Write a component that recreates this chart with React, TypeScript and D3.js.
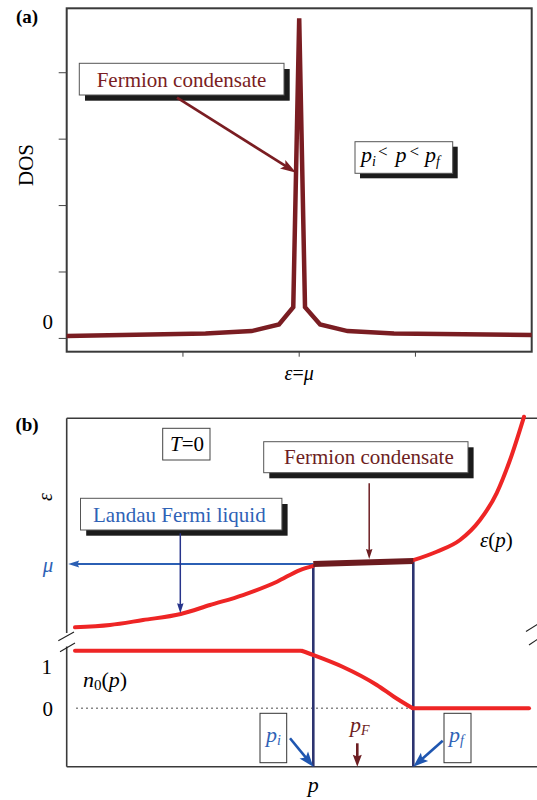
import React from "react";
import * as d3 from "d3";

// ---------- Panel (a): density of states ----------
const dosEnergy = [0, 1.194, 1.591, 1.826, 1.949, 2.0, 2.05, 2.18, 2.416, 2.815, 4];
const dosValue = [0.035, 0.075, 0.11, 0.211, 0.471, 4.82, 0.471, 0.211, 0.11, 0.075, 0.05];
const dosXTicks = [1, 2, 3];
const dosYTicks = [0, 1, 2, 3, 4];

// ---------- Panel (b): spectrum and occupation ----------
const epsLeftP = [0.083, 0.433, 0.763, 1.14, 1.433, 1.763, 2.103, 2.333, 2.466];
const epsLeftE = [0, 0.036, 0.115, 0.21, 0.352, 0.51, 0.72, 0.905, 0.97];
const condP = [2.466, 3.466];
const condE = [1.0, 1.047];
const epsRightP = [3.466, 3.7, 3.933, 4.133, 4.3, 4.433, 4.573];
const epsRightE = [1.06, 1.194, 1.379, 1.695, 2.12, 2.643, 3.327];
const n0FlatLP = [0.083, 2.347];
const n0FlatLV = [1, 1];
const n0DropP = [2.347, 2.467, 2.758, 3.101, 3.272, 3.46];
const n0DropV = [1, 0.925, 0.722, 0.405, 0.201, 0];
const n0FlatRP = [3.46, 4.623];
const n0FlatRV = [0, 0];
const pI = 2.466;
const pFermi = 2.906;
const pFin = 3.466;
const muValue = 1;

const DARKRED = "#7a1d22";
const RED = "#ee2525";
const BLUE = "#2f62b6";
const NAVY = "#2d3470";
const SERIF = { fontFamily: '"Liberation Serif", "Times New Roman", serif' };

const xA = d3.scaleLinear().domain([0, 4]).range([66.7, 531.7]);
const yA = d3.scaleLinear().domain([-0.2, 4.97]).range([351.7, 8.3]);
const xB = d3.scaleLinear().domain([0, 4.7]).range([66.7, 536.7]);
const yE = d3.scaleLinear().domain([0, 1]).range([627.3, 564]);
const yN = d3.scaleLinear().domain([0, 1]).range([708.3, 650.7]);
const bTop = 418.3;
const bBottom = 766.7;

function T(props: any) {
  return <text {...props} style={SERIF} />;
}

function Arrow({ x1, y1, x2, y2, color, w, hl, hw, notch = 0.8 }: any) {
  const dx = x2 - x1, dy = y2 - y1;
  const L = Math.hypot(dx, dy);
  const ux = dx / L, uy = dy / L;
  const px = -uy, py = ux;
  const bx = x2 - ux * hl, by = y2 - uy * hl;
  const nx = x2 - ux * hl * notch, ny = y2 - uy * hl * notch;
  const pts = `${x2},${y2} ${bx + (px * hw) / 2},${by + (py * hw) / 2} ${nx},${ny} ${bx - (px * hw) / 2},${by - (py * hw) / 2}`;
  return (
    <g>
      <line x1={x1} y1={y1} x2={nx + ux} y2={ny + uy} stroke={color} strokeWidth={w} />
      <polygon points={pts} fill={color} />
    </g>
  );
}

function ShadowBox({ x, y, w, h, off = 5.5 }: any) {
  return (
    <g>
      <rect x={x + off} y={y + off} width={w} height={h} fill="#1b1b1b" />
      <rect x={x} y={y} width={w} height={h} fill="#fff" stroke="#555" strokeWidth={1} />
    </g>
  );
}

export default function App() {
  const zip = (a: number[], b: number[]) => a.map((v, i) => [v, b[i]] as [number, number]);
  const dosLine = d3
    .line<[number, number]>()
    .x((d) => xA(d[0]))
    .y((d) => yA(d[1]));
  const epsLine = d3
    .line<[number, number]>()
    .x((d) => xB(d[0]))
    .y((d) => yE(d[1]))
    .curve(d3.curveMonotoneX);
  const condLine = d3
    .line<[number, number]>()
    .x((d) => xB(d[0]))
    .y((d) => yE(d[1]));
  const n0Line = d3
    .line<[number, number]>()
    .x((d) => xB(d[0]))
    .y((d) => yN(d[1]))
    .curve(d3.curveMonotoneX);

  const aL = xA.range()[0], aR = xA.range()[1];
  const aT = yA.range()[1], aB = yA.range()[0];
  const bL = xB.range()[0];

  return (
    <svg width={537} height={800} style={{ position: "absolute", left: 0, top: 0, background: "#fff" }}>
      {/* ================= Panel (a) ================= */}
      <T x={16} y={23} fontSize={19} fontWeight="bold">(a)</T>
      <rect x={aL} y={aT} width={aR - aL} height={aB - aT} fill="none" stroke="#3a3a3a" strokeWidth={2} />
      {dosYTicks.map((t) => (
        <line key={"ya" + t} x1={aL - 8} x2={aL} y1={yA(t)} y2={yA(t)} stroke="#444" strokeWidth={1} />
      ))}
      {dosXTicks.map((t) => (
        <line key={"xa" + t} x1={xA(t)} x2={xA(t)} y1={aB} y2={aB + 5} stroke="#444" strokeWidth={1} />
      ))}
      <T x={53} y={yA(0) - 9} fontSize={21} textAnchor="end">0</T>
      <T transform={`translate(33,165) rotate(-90)`} fontSize={21} textAnchor="middle">DOS</T>
      <T x={xA(2)} y={380} fontSize={20} textAnchor="middle">
        <tspan fontStyle="italic">ε</tspan>
        <tspan>=</tspan>
        <tspan fontStyle="italic">μ</tspan>
      </T>

      <path d={dosLine(zip(dosEnergy, dosValue)) || ""} fill="none" stroke={DARKRED} strokeWidth={4.5} strokeLinejoin="miter" strokeMiterlimit={30} />

      <ShadowBox x={79.3} y={63.3} w={204.7} h={31.7} off={5.7} />
      <T x={96.7} y={87.3} fontSize={21} fill={DARKRED}>Fermion condensate</T>
      <Arrow x1={177} y1={97.7} x2={xA(2) - 3} y2={172.7} color={DARKRED} w={2.6} hl={16} hw={10} />

      <ShadowBox x={355} y={141.7} w={97.7} h={31.6} off={5} />
      <T x={361} y={162.3} fontSize={22} fontStyle="italic">
        <tspan>p</tspan>
        <tspan fontSize={14} dy={4}>i</tspan>
        <tspan fontSize={17} fontStyle="normal" dx={2} dy={-9.3}>&lt;</tspan>
        <tspan dx={8} dy={5.3}>p</tspan>
        <tspan fontSize={17} fontStyle="normal" dx={3} dy={-5.3}>&lt;</tspan>
        <tspan dx={6} dy={5.3}>p</tspan>
        <tspan fontSize={14} dy={4}>f</tspan>
      </T>

      {/* ================= Panel (b) ================= */}
      <T x={15.4} y={431} fontSize={19} fontWeight="bold">(b)</T>
      <line x1={bL} x2={537} y1={bTop} y2={bTop} stroke="#3a3a3a" strokeWidth={1.6} />
      <line x1={bL} x2={537} y1={bBottom} y2={bBottom} stroke="#3a3a3a" strokeWidth={1.6} />
      <line x1={bL} x2={bL} y1={bTop} y2={633} stroke="#3a3a3a" strokeWidth={1.6} />
      <line x1={bL} x2={bL} y1={646.5} y2={bBottom} stroke="#3a3a3a" strokeWidth={1.6} />
      {/* axis breaks */}
      <line x1={58.3} y1={640.7} x2={74} y2={632} stroke="#222" strokeWidth={1.1} />
      <line x1={60} y1={651.7} x2={75} y2={643} stroke="#222" strokeWidth={1.1} />
      <line x1={526} y1={631.5} x2={538} y2={624} stroke="#222" strokeWidth={1.1} />
      <line x1={529} y1={645} x2={538} y2={639} stroke="#222" strokeWidth={1.1} />

      {/* T=0 box */}
      <rect x={162.7} y={428.3} width={47.3} height={31.7} fill="#fff" stroke="#444" strokeWidth={1} />
      <T x={170} y={450.7} fontSize={21}>
        <tspan fontStyle="italic">T</tspan>
        <tspan>=0</tspan>
      </T>

      {/* dotted zero line */}
      <line x1={76} x2={496.6} y1={yN(0)} y2={yN(0)} stroke="#888" strokeWidth={1.5} strokeDasharray="2,3" />

      {/* vertical p_i / p_f lines */}
      <line x1={xB(pI)} x2={xB(pI)} y1={yE(condE[0])} y2={bBottom} stroke={NAVY} strokeWidth={2.6} />
      <line x1={xB(pFin)} x2={xB(pFin)} y1={yE(condE[1])} y2={bBottom} stroke={NAVY} strokeWidth={2.6} />

      {/* mu arrow */}
      <Arrow x1={xB(pI)} y1={yE(muValue)} x2={bL + 1.5} y2={yE(muValue)} color="#2b5fb4" w={1.8} hl={11} hw={7} notch={0.85} />
      <T x={48} y={572} fontSize={21} fontStyle="italic" fill={BLUE} textAnchor="middle">μ</T>
      <T transform={`translate(52,497) rotate(-90)`} fontSize={20} fontStyle="italic" textAnchor="middle">ε</T>

      {/* epsilon(p) */}
      <path d={epsLine(zip(epsLeftP, epsLeftE)) || ""} fill="none" stroke={RED} strokeWidth={4} strokeLinecap="round" />
      <path d={epsLine(zip(epsRightP, epsRightE)) || ""} fill="none" stroke={RED} strokeWidth={4} strokeLinecap="round" />
      <path d={condLine(zip(condP, condE)) || ""} fill="none" stroke="#6c1b1f" strokeWidth={6} />

      {/* n0(p) */}
      <path d={n0Line(zip(n0FlatLP, n0FlatLV)) || ""} fill="none" stroke={RED} strokeWidth={4} strokeLinecap="round" />
      <path d={n0Line(zip(n0DropP, n0DropV)) || ""} fill="none" stroke={RED} strokeWidth={4} />
      <path d={n0Line(zip(n0FlatRP, n0FlatRV)) || ""} fill="none" stroke={RED} strokeWidth={4} strokeLinecap="round" />

      <T x={52} y={674} fontSize={21} textAnchor="end">1</T>
      <T x={53} y={yN(0) + 7.5} fontSize={21} textAnchor="end">0</T>
      <T x={83} y={687} fontSize={22}>
        <tspan fontStyle="italic">n</tspan>
        <tspan fontSize={15} dy={3}>0</tspan>
        <tspan dy={-3}>(</tspan>
        <tspan fontStyle="italic">p</tspan>
        <tspan>)</tspan>
      </T>
      <T x={480} y={546.7} fontSize={21}>
        <tspan fontStyle="italic">ε</tspan>
        <tspan>(</tspan>
        <tspan fontStyle="italic">p</tspan>
        <tspan>)</tspan>
      </T>

      {/* Fermion condensate box (b) */}
      <ShadowBox x={263.7} y={441.7} w={204.3} h={31} off={5.6} />
      <T x={284} y={464} fontSize={21} fill="#6d1e22">Fermion condensate</T>
      <Arrow x1={369.2} y1={483.3} x2={369.2} y2={yE(1.03) - 3} color="#6d1e22" w={1.5} hl={10} hw={6.5} notch={0.9} />

      {/* Landau box */}
      <ShadowBox x={80.5} y={498.3} w={201.4} h={31.7} off={5.7} />
      <T x={93} y={521.7} fontSize={21} fill={BLUE}>Landau Fermi liquid</T>
      <Arrow x1={180.3} y1={533.3} x2={180.3} y2={613.3} color="#27348b" w={1.5} hl={10} hw={6.5} notch={0.9} />

      {/* p_i, p_f boxes */}
      <rect x={260} y={713.3} width={26.7} height={49.4} fill="#fff" stroke="#333" strokeWidth={1} />
      <T x={266} y={742} fontSize={22} fontStyle="italic" fill={BLUE}>
        <tspan>p</tspan>
        <tspan fontSize={14} dy={3}>i</tspan>
      </T>
      <rect x={444} y={713.3} width={27} height={49.4} fill="#fff" stroke="#333" strokeWidth={1} />
      <T x={449} y={742} fontSize={22} fontStyle="italic" fill={BLUE}>
        <tspan>p</tspan>
        <tspan fontSize={14} dy={3}>f</tspan>
      </T>
      <Arrow x1={290} y1={738.3} x2={xB(pI)} y2={bBottom} color="#1f56b0" w={2.6} hl={15} hw={11} />
      <Arrow x1={442.7} y1={740.7} x2={xB(pFin)} y2={bBottom} color="#1f56b0" w={2.6} hl={15} hw={11} />

      {/* p_F */}
      <T x={350} y={732} fontSize={22} fontStyle="italic" fill="#6d1e22">
        <tspan>p</tspan>
        <tspan fontSize={14} dy={3}>F</tspan>
      </T>
      <Arrow x1={xB(pFermi)} y1={743.3} x2={xB(pFermi)} y2={bBottom} color="#6d1e22" w={2.6} hl={12} hw={9} notch={0.85} />

      <T x={xB(pI)} y={792} fontSize={22} fontStyle="italic" textAnchor="middle">p</T>
    </svg>
  );
}
